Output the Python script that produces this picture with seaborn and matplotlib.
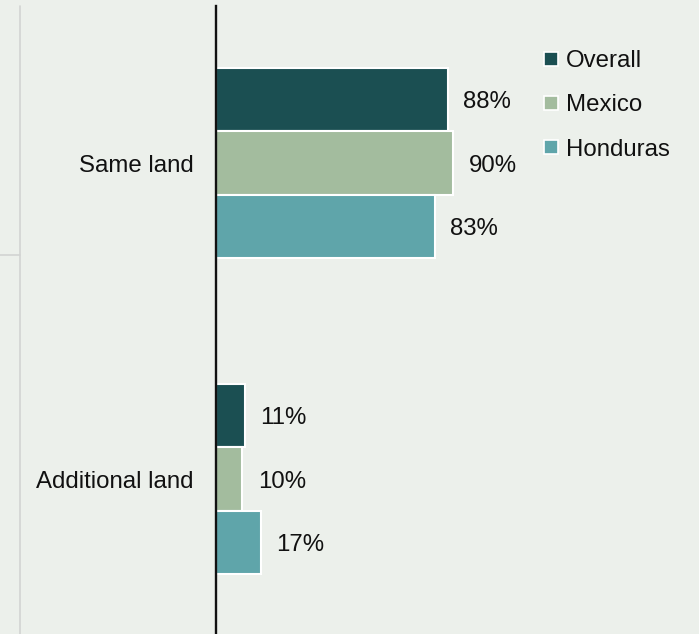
import matplotlib
matplotlib.use("Agg")
import matplotlib.pyplot as plt
from matplotlib.lines import Line2D
import seaborn as sns
import pandas as pd

categories = ["Same land", "Additional land"]
groups = ["Overall", "Mexico", "Honduras"]
overall = [88, 11]
mexico = [90, 10]
honduras = [83, 17]

colors = ["#1B4F52", "#A3BC9E", "#5FA5AA"]
bg = "#ECF0EB"

df = pd.DataFrame({
    "category": categories * 3,
    "group": [g for g in groups for _ in categories],
    "value": overall + mexico + honduras,
})

sns.set_theme(style="white")
plt.rcParams["font.family"] = ["Liberation Sans", "DejaVu Sans"]

FS = 17.3
W, H = 699, 634
fig = plt.figure(figsize=(W / 100, H / 100), dpi=100, facecolor=bg)
ax = fig.add_axes([216 / W, 0, (W - 216) / W, 1 - 6 / H], facecolor=bg)

sns.barplot(data=df, y="category", x="value", hue="group", order=categories,
            hue_order=groups, palette=colors, orient="h", width=0.6,
            edgecolor="white", linewidth=1.5, saturation=1, ax=ax, legend=False)

ax.set_xlim(0, (W - 216) / 2.636)
ax.set_ylim(-0.497 + 628 / 316, -0.497)
ax.set_xlabel("")
ax.set_ylabel("")
ax.set_xticks([])
for side in ["top", "right", "bottom"]:
    ax.spines[side].set_visible(False)
ax.spines["left"].set_color("#111111")
ax.spines["left"].set_linewidth(1.7)
ax.tick_params(axis="y", length=0, pad=16, labelsize=FS, labelcolor="#111111")

for cont in ax.containers:
    texts = ax.bar_label(cont, fmt="{:.0f}%", padding=11, fontsize=FS, color="#111111")
    for t in texts:
        t.set_verticalalignment("center_baseline")

handles = [Line2D([], [], marker="s", linestyle="none", markersize=9.5,
                  markerfacecolor=c, markeredgecolor="white", markeredgewidth=1.2)
           for c in colors]
fig.legend(handles, groups, loc="upper left", bbox_to_anchor=(544 / W, 1 - 50 / H),
           frameon=False, fontsize=FS, handlelength=0.6, handletextpad=0.3,
           labelspacing=0.93, borderpad=0, borderaxespad=0, labelcolor="#111111")

# thin gray guide lines on the far left
fig.add_artist(Line2D([19.5 / W, 19.5 / W], [0, 1 - 6 / H], color="#D2D4D2", lw=1.2))
fig.add_artist(Line2D([0, 19.5 / W], [1 - 255 / H, 1 - 255 / H], color="#D2D4D2", lw=1.2))

fig.savefig("out.png", dpi=100, facecolor=bg)
